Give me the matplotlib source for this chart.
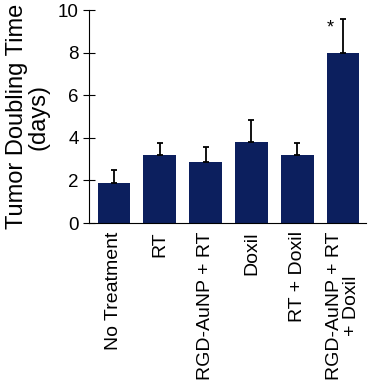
import numpy as np
import matplotlib.pyplot as plt

plt.rcParams['font.family'] = ['Liberation Sans', 'DejaVu Sans']

groups = ["No Treatment", "RT", "RGD-AuNP + RT", "Doxil", "RT + Doxil", "RGD-AuNP + RT\n+ Doxil"]
means = [1.86, 3.19, 2.85, 3.82, 3.19, 8.0]
errs = [0.63, 0.55, 0.73, 1.02, 0.55, 1.6]

fig = plt.figure(figsize=(3.69, 3.86), dpi=100)
ax = fig.add_axes([0.24, 0.422, 0.752, 0.552])

x = np.arange(len(groups))
ax.bar(x, means, width=0.71, color='#0c1f5e',
       yerr=[np.zeros(len(errs)), errs], error_kw=dict(ecolor='black', elinewidth=1.3, capsize=2.5, capthick=1.3))

ax.text(x[-1] - 0.27, means[-1] + errs[-1] - 0.05, '*', fontsize=13, ha='center', va='top')

ax.set_xlim(-0.55, 5.5)
ax.set_ylim(0, 10)
ax.set_yticks(np.arange(0, 11, 2))
ax.set_xticks(x)
ax.set_xticklabels(groups, rotation=90, fontsize=14, multialignment='center', linespacing=1.0)
ax.tick_params(axis='x', length=0, pad=6)
ax.tick_params(axis='y', labelsize=13.5, length=8, direction='inout', pad=3)
ax.set_ylabel("Tumor Doubling Time\n(days)", fontsize=17, labelpad=6, linespacing=0.95)

for s in ['top', 'right']:
    ax.spines[s].set_visible(False)

fig.savefig('out.png', dpi=100)
